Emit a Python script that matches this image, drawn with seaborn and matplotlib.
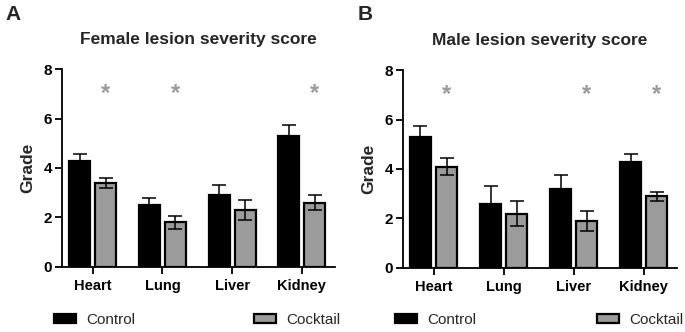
import matplotlib
matplotlib.use("Agg")
import matplotlib.pyplot as plt
import seaborn as sns
import pandas as pd
import numpy as np

organs = ["Heart", "Lung", "Liver", "Kidney"]
groups = ["Control", "Cocktail"]

female_control = [4.3, 2.5, 2.9, 5.3]
female_control_err = [0.25, 0.3, 0.42, 0.42]
female_cocktail = [3.4, 1.8, 2.3, 2.6]
female_cocktail_err = [0.2, 0.25, 0.4, 0.3]
female_sig = ["Heart", "Lung", "Kidney"]

male_control = [5.3, 2.6, 3.2, 4.3]
male_control_err = [0.43, 0.72, 0.55, 0.32]
male_cocktail = [4.1, 2.2, 1.9, 2.9]
male_cocktail_err = [0.35, 0.52, 0.4, 0.18]
male_sig = ["Heart", "Liver", "Kidney"]

yticks = [0, 2, 4, 6, 8]

sns.set_theme(style="ticks")
plt.rcParams["font.family"] = ["Arial", "Liberation Sans", "DejaVu Sans"]

W, H = 685, 332
fig = plt.figure(figsize=(6.85, 3.32), dpi=100)
axA = fig.add_axes([0.0905, 0.196, 0.398, 0.596])
axB = fig.add_axes([0.588, 0.193, 0.400, 0.596])

palette = {"Control": "#000000", "Cocktail": "#9b9b9b"}


def panel(ax, ctrl, ctrl_err, cock, cock_err, sig, title, letter, letter_x, leg_x):
    df = pd.DataFrame({
        "Organ": organs * 2,
        "Group": ["Control"] * 4 + ["Cocktail"] * 4,
        "Grade": list(ctrl) + list(cock),
        "Err": list(ctrl_err) + list(cock_err),
    })
    sns.barplot(data=df, x="Organ", y="Grade", hue="Group", order=organs,
                hue_order=groups, palette=palette, errorbar=None,
                width=0.75, gap=0.2, edgecolor="black", linewidth=1.6, ax=ax)
    handles, labels = ax.get_legend_handles_labels()
    if ax.get_legend() is not None:
        ax.get_legend().remove()
    bars = [p for p in ax.patches if p.get_height() > 0][:8]
    for p, (_, row) in zip(bars, df.iterrows()):
        xc = p.get_x() + p.get_width() / 2
        ax.errorbar(xc, row["Grade"], yerr=row["Err"], fmt="none",
                    ecolor="black", elinewidth=1.1, capsize=5, capthick=1.1,
                    zorder=1 if row["Group"] == "Control" else 3)
    for p, (_, row) in zip(bars, df.iterrows()):
        if row["Group"] == "Cocktail" and row["Organ"] in sig:
            xc = p.get_x() + p.get_width() / 2
            ax.text(xc, 7.0, "*", ha="center", va="center", fontsize=17,
                    color="#9b9b9b", fontweight="bold")
    ax.set_ylim(0, 8)
    ax.set_xlim(-0.44, 3.47)
    ax.set_yticks(yticks)
    ax.set_yticklabels([str(t) for t in yticks], fontweight="bold", fontsize=11)
    ax.set_xticks(range(len(organs)))
    ax.set_xticklabels(organs, fontweight="bold", fontsize=10.5)
    ax.set_xlabel("")
    ax.set_ylabel("Grade", fontweight="bold", fontsize=12.5, labelpad=6)
    ax.set_title(title, fontweight="bold", fontsize=12.5, pad=18)
    for s in ["top", "right"]:
        ax.spines[s].set_visible(False)
    for s in ["left", "bottom"]:
        ax.spines[s].set_linewidth(1.3)
        ax.spines[s].set_color("black")
    ax.tick_params(axis="both", length=5, width=1.3, color="black", labelcolor="black")
    ax.tick_params(axis="y", pad=2)
    for h, l, x in zip(handles, labels, leg_x):
        fig.legend([h], [l], loc="center left",
                   bbox_to_anchor=(x / W, 1 - 320 / H),
                   frameon=False, fontsize=11, handlelength=1.45,
                   handleheight=0.6, handletextpad=0.65,
                   borderpad=0, borderaxespad=0)
    fig.text(letter_x, 0.955, letter, fontsize=15, fontweight="bold",
             ha="left", va="center")


panel(axA, female_control, female_control_err, female_cocktail,
      female_cocktail_err, female_sig, "Female lesion severity score", "A",
      0.008, [54, 254])
panel(axB, male_control, male_control_err, male_cocktail,
      male_cocktail_err, male_sig, "Male lesion severity score", "B",
      0.522, [395, 597])

fig.savefig("out.png", dpi=100)
